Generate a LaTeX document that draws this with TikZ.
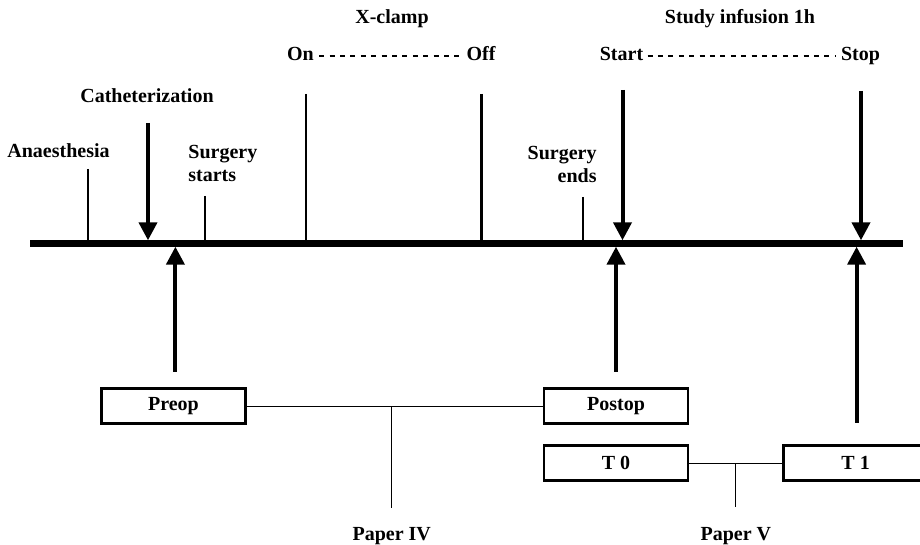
\documentclass[tikz,border=0pt]{standalone}
\usepackage{fontspec}
\setmainfont{Liberation Serif}
\usepackage{tikz}
\usetikzlibrary{positioning,arrows.meta}

\begin{document}
\begin{tikzpicture}[
    x=0.5pt, y=-0.5pt,  % one unit per pixel of the layout
    lbl/.style = {font=\fontsize{10}{11.5}\selectfont\bfseries, inner sep=0pt},
    tick/.style = {line width=1.2pt},
    evarrow/.style = {line width=2pt, -{Triangle[width=9pt,length=9pt]}, shorten >=1.6pt},
    period/.style = {draw, line width=1.3pt, minimum width=72pt, minimum height=17.7pt,
                     inner sep=0pt, font=\bfseries},
    dashline/.style = {line width=0.9pt, dash pattern=on 2.5pt off 2.7pt},
    link/.style = {line width=0.5pt}
  ]
    \useasboundingbox (0,0) rectangle (920,545);

    % time axis
    \coordinate (axisL) at (30,243.5);
    \coordinate (axisR) at (903,243.5);
    \draw[line width=3.25pt] (axisL) -- (axisR);

    % events above the axis
    \node[lbl, anchor=base] (anaes) at (58.5,158) {Anaesthesia};
    \node[lbl, anchor=base] (cath) at (147,103) {Catheterization};
    \node[lbl, anchor=north west, align=left] (sstart) at (188,145) {Surgery\\starts};
    \node[lbl, anchor=north east, align=right] (send) at (597,146) {Surgery\\ends};

    \node[lbl, anchor=base] (xclamp) at (392,24) {X-clamp};
    \node[lbl, anchor=base] (on) at (300.5,60.5) {On};
    \node[lbl, anchor=base] (off) at (481,60.5) {Off};

    \node[lbl, anchor=base] (infusion) at (740,24) {Study infusion 1h};
    \node[lbl, anchor=base] (start) at (621.5,60.5) {Start};
    \node[lbl, anchor=base] (stop) at (860.5,60.5) {Stop};

    \draw[dashline] ([xshift=2.5pt,yshift=-1pt]on.east) -- ([xshift=-2.5pt,yshift=-1pt]on.east -| off.west);
    \draw[dashline] ([xshift=2pt]start.east |- on.east) ++(0,2) -- ([xshift=-2.5pt,yshift=-1pt]on.east -| stop.west);

    % thin marks and arrows onto the axis
    \coordinate (anaesT) at (88,169);
    \coordinate (sstartT) at (205,196);
    \coordinate (onT) at (306,94);
    \coordinate (offT) at (481.5,94);
    \coordinate (sendT) at (583,197);
    \foreach \c in {anaesT, sstartT, onT, offT, sendT}
      \draw[tick] (\c) -- (\c |- axisL);

    \coordinate (cathA) at (148,123);
    \coordinate (startA) at (622.5,90);
    \coordinate (stopA) at (861,91);
    \foreach \c in {cathA, startA, stopA}
      \draw[evarrow] (\c) -- (\c |- axisL);

    % sampling points below the axis
    \node[period] (postop) at (616,406) {Postop};
    \node[period, left=148pt of postop] (preop) {Preop};
    \node[period, below=9.5pt of postop] (t0box) {T 0};
    \node[period, right=46.5pt of t0box] (t1box) {T 1};

    \draw[evarrow, shorten <=7.6pt] ([xshift=1pt]preop.north) -- ([xshift=1pt]preop.north |- axisL);
    \draw[evarrow, shorten <=7.6pt] (postop.north) -- (postop.north |- axisL);
    \draw[evarrow, shorten <=10.6pt] ([xshift=0.5pt]t1box.north) -- ([xshift=0.5pt]t1box.north |- axisL);

    % papers
    \draw[link] (preop) -- (postop) coordinate[pos=0.49] (p4);
    \node[lbl, below=60.5pt of p4] (paper4) {Paper IV};
    \draw[link] (p4) -- ([yshift=9.5pt]paper4.north);

    \draw[link] (t0box) -- (t1box) coordinate[pos=0.5] (p5);
    \node[lbl, below=32pt of p5] (paper5) {Paper V};
    \draw[link] (p5) -- ([yshift=10pt]paper5.north);
  \end{tikzpicture}
\end{document}
